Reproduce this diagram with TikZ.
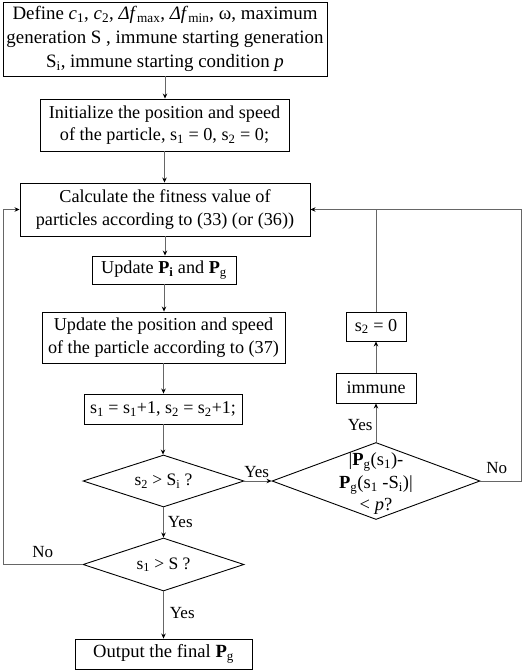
\documentclass[tikz,border=0pt]{standalone}
\usepackage{fontspec}
\setmainfont{Liberation Serif}
\usetikzlibrary{shapes.geometric,arrows.meta}
\newcommand{\lo}[1]{\textsubscript{#1}}
\begin{document}
\begin{tikzpicture}[x=1pt,y=-1pt,
  box/.style={draw=black,line width=0.9pt,align=center,inner sep=0pt,font=\fontsize{18.2}{22.5}\selectfont},
  dia/.style={draw=black,line width=0.9pt,diamond,inner sep=0pt},
  lbl/.style={font=\fontsize{17}{21}\selectfont,align=center,inner sep=0pt},
  conn/.style={draw=black!60,line width=0.8pt},
  arr/.style={conn,-{Stealth[length=5pt,width=4.5pt,black]}}]
\useasboundingbox[fill=white] (0,0) rectangle (526,672);
\node[box,minimum width=324pt,minimum height=74pt,font=\fontsize{18.9}{24}\selectfont] (b1) at (165,39)
  {Define \textit{c}\lo{1}, \textit{c}\lo{2}, \textit{Δf}\lo{max}, \textit{Δf}\lo{min}, ω, maximum\\generation S , immune starting generation\\S\lo{i}, immune starting condition \textit{p}};
\node[box,minimum width=249pt,minimum height=52pt] (b2) at (164.5,125)
  {Initialize the position and speed\\of the particle, s\lo{1} = 0, s\lo{2} = 0;};
\node[box,minimum width=290pt,minimum height=53pt] (b3) at (165,209.5)
  {Calculate the fitness value of\\particles according to (33) (or (36))};
\node[box,minimum width=144pt,minimum height=28pt] (b4) at (164,270)
  {Update \textbf{P}\lo{\textbf{i}} and \textbf{P}\lo{g}};
\node[box,minimum width=243pt,minimum height=51pt] (b5) at (163.5,337.5)
  {Update the position and speed\\of the particle according to (37)};
\node[box,minimum width=158pt,minimum height=30pt,font=\fontsize{18}{22}\selectfont] (b6) at (163,409)
  {s\lo{1} = s\lo{1}+1, s\lo{2} = s\lo{2}+1;};
\node[dia,minimum width=161pt,minimum height=52pt,label={[lbl,font=\fontsize{17.5}{21}\selectfont]center:s\lo{2} > S\lo{i} ?}] (d1) at (163.5,481) {};
\node[dia,minimum width=161pt,minimum height=53pt,label={[lbl,font=\fontsize{17.5}{21}\selectfont]center:s\lo{1} > S ?}] (d3) at (163.5,564.5) {};
\node[box,minimum width=177pt,minimum height=30pt,font=\fontsize{18.6}{22}\selectfont] (out) at (163.5,654)
  {Output the final \textbf{P}\lo{g}};
\node[box,minimum width=60pt,minimum height=29pt] (s20) at (376,326.5) {s\lo{2} = 0};
\node[box,minimum width=80pt,minimum height=30pt,font=\fontsize{18}{22}\selectfont] (imm) at (376,388) {immune};
\node[dia,minimum width=208pt,minimum height=77pt,
  label={[lbl,font=\fontsize{18.5}{22.5}\selectfont,yshift=-3pt]center:|\textbf{P}\lo{g}(s\lo{1})-\\\textbf{P}\lo{g}(s\lo{1} -S\lo{i})|\\< \textit{p}?}] (d2) at (376,481) {};
\coordinate (rr) at (521,481);
\coordinate (ll) at (3,564.5);
\draw[arr] (b1.south) -- (b1.south |- b2.north);
\draw[arr] (b2.south) -- (b2.south |- b3.north);
\draw[arr] (b3.south) -- (b3.south |- b4.north);
\draw[arr] (b4.south) -- (b4.south |- b5.north);
\draw[arr] (b5.south) -- (b5.south |- b6.north);
\draw[arr] (b6.south) -- (b6.south |- d1.north);
\draw[arr] (d1.south) -- node[lbl,right=4pt,pos=0.5] {Yes} (d1.south |- d3.north);
\draw[arr] (d3.south) -- node[lbl,right=6pt,pos=0.45] {Yes} (d3.south |- out.north);
\draw[arr] (d1.east) -- node[lbl,above=3pt,pos=0.45] {Yes} (d2.west);
\draw[arr] (d2.north) -- node[lbl,left=3pt,pos=0.45] {Yes} (imm.south);
\draw[arr] (imm.north) -- (s20.south);
\draw[conn] (s20.north) -- (s20.north |- b3.east);
\draw[arr] (d2.east) -- node[lbl,above=7pt,pos=0.4] {No} (rr) -- (rr |- b3.east) -- (b3.east);
\draw[arr] (d3.west) -- node[lbl,above=6pt,pos=0.5] {No} (ll) -- (ll |- b3.west) -- (b3.west);
\end{tikzpicture}
\end{document}
